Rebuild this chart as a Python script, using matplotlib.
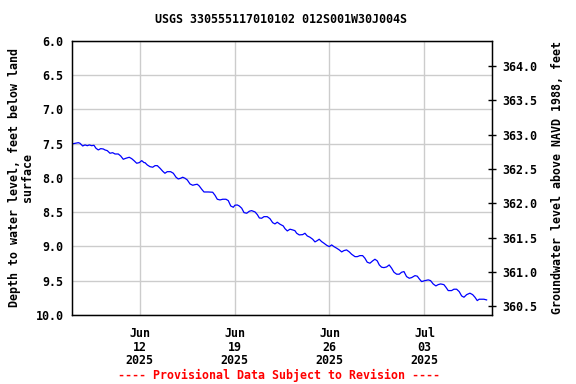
import matplotlib
matplotlib.use("Agg")
import matplotlib.pyplot as plt
import matplotlib.dates as mdates
from datetime import datetime, timedelta

# Data: days since 2025-06-07 00:00, depth (ft below land surface)
day_offsets = [
    0.00, 0.49, 0.61, 0.81, 0.98, 1.15, 1.30, 1.47, 1.64, 1.79, 1.96, 2.14, 2.33, 2.45, 2.62,
    2.82, 3.02, 3.19, 3.43, 3.61, 3.80, 4.00, 4.24, 4.42, 4.59, 4.79, 4.98, 5.16, 5.33,
    5.40, 5.57, 5.77, 5.97, 6.14, 6.31, 6.51, 6.71, 6.87, 7.04, 7.29, 7.49, 7.69, 7.85,
    8.03, 8.18, 8.35, 8.52, 8.72, 8.92, 9.09, 9.25, 9.40, 9.58, 9.75, 10.07, 10.39, 10.56,
    10.73, 10.93, 11.13, 11.37, 11.54, 11.72, 11.91, 12.03, 12.20, 12.35, 12.53, 12.70,
    12.90, 13.09, 13.26, 13.51, 13.68, 13.83, 14.00, 14.17, 14.41, 14.61, 14.81, 14.98,
    15.15, 15.35, 15.59, 15.72,
    15.89, 16.09, 16.28, 16.45, 16.58, 16.77, 17.02, 17.19, 17.36, 17.56, 17.76, 17.93,
    18.10, 18.24, 18.42, 18.59, 18.79, 18.98, 19.16, 19.33, 19.53, 19.72, 19.90, 20.06,
    20.26, 20.46, 20.63, 20.88,
    21.05, 21.24, 21.44, 21.61, 21.78, 21.98, 22.18, 22.35, 22.52, 22.67, 22.84, 23.01,
    23.21, 23.40, 23.58, 23.75, 23.95, 24.14, 24.32, 24.49, 24.68, 24.88, 25.05, 25.30,
    25.47, 25.62, 25.79,
    25.96, 26.03, 26.28, 26.45, 26.64, 26.84, 27.01, 27.19, 27.43, 27.58, 27.75, 28.00,
    28.17, 28.37, 28.56, 28.74, 28.91, 29.11, 29.35, 29.55, 29.72, 29.89, 30.03, 30.21,
    30.38, 30.58,
]
depths = [
    7.506, 7.487, 7.496, 7.535, 7.520, 7.531, 7.520, 7.531, 7.525, 7.569, 7.593, 7.574, 7.579, 7.593, 7.603,
    7.641, 7.633, 7.652, 7.652, 7.681, 7.729, 7.714, 7.700, 7.720, 7.749, 7.787, 7.778, 7.749, 7.778,
    7.778, 7.812, 7.837, 7.845, 7.822, 7.822, 7.860, 7.904, 7.933, 7.910, 7.910, 7.933, 7.991, 8.016,
    8.006, 7.991, 8.006, 8.031, 8.089, 8.108, 8.099, 8.093, 8.118, 8.166, 8.206, 8.206, 8.210, 8.254,
    8.312, 8.322, 8.312, 8.312, 8.332, 8.410, 8.429, 8.399, 8.395, 8.410, 8.443, 8.507,
    8.516, 8.487, 8.478, 8.497, 8.536, 8.585, 8.589, 8.566, 8.566, 8.595, 8.653, 8.672,
    8.647, 8.676, 8.701, 8.741,
    8.774, 8.749, 8.759, 8.770, 8.808, 8.832, 8.828, 8.808, 8.847, 8.866, 8.895, 8.934,
    8.915, 8.895, 8.930, 8.953, 8.983, 9.003, 8.978, 9.003, 9.026, 9.051, 9.080, 9.061,
    9.051, 9.080, 9.114, 9.149,
    9.149, 9.134, 9.134, 9.172, 9.230, 9.245, 9.211, 9.187, 9.211, 9.270, 9.303, 9.309,
    9.299, 9.270, 9.318, 9.376, 9.405, 9.405, 9.376, 9.367, 9.440, 9.464, 9.455, 9.426,
    9.434, 9.474, 9.513,
    9.503, 9.499, 9.488, 9.499, 9.547, 9.576, 9.557, 9.547, 9.557, 9.595, 9.644, 9.644,
    9.624, 9.624, 9.659, 9.722, 9.741, 9.703, 9.682, 9.703, 9.741, 9.790, 9.770, 9.770,
    9.770, 9.780,
]

start_date = datetime(2025, 6, 7)
end_date = datetime(2025, 7, 8)
tick_dates = [datetime(2025, 6, 12), datetime(2025, 6, 19), datetime(2025, 6, 26), datetime(2025, 7, 3)]
left_ticks = [6.0, 6.5, 7.0, 7.5, 8.0, 8.5, 9.0, 9.5, 10.0]
right_ticks = [360.5, 361.0, 361.5, 362.0, 362.5, 363.0, 363.5, 364.0]
land_surface = 370.37

title = "USGS 330555117010102 012S001W30J004S"
left_label = "Depth to water level, feet below land\nsurface"
right_label = "Groundwater level above NAVD 1988, feet"
footer = "---- Provisional Data Subject to Revision ----"

times = [start_date + timedelta(days=d) for d in day_offsets]

mono = "DejaVu Sans Mono"
plt.rcParams['font.family'] = mono
plt.rcParams['font.weight'] = 'bold'

fig = plt.figure(figsize=(5.76, 3.84), dpi=100)
ax = fig.add_axes([0.1245, 0.1797, 0.7302, 0.7143])

ax.plot(times, depths, color="#0000ff", linewidth=0.9)
ax.set_xlim(start_date, end_date)
ax.set_ylim(10.0, 6.0)
ax.set_yticks(left_ticks)
ax.set_yticklabels([f"{v:.1f}" for v in left_ticks], fontsize=8.4, fontweight='bold')
ax.set_xticks(tick_dates)
ax.xaxis.set_major_formatter(mdates.DateFormatter('%b\n%d\n%Y'))
for lbl in ax.get_xticklabels():
    lbl.set_fontsize(8.4)
    lbl.set_fontweight('bold')
    lbl.set_linespacing(1.05)
ax.tick_params(axis='x', length=0, pad=9)
ax.tick_params(axis='y', length=0, pad=6)
ax.grid(True, color="#cccccc", linewidth=1.0)
ax.set_axisbelow(True)
for sp in ax.spines.values():
    sp.set_color("black")
    sp.set_linewidth(1.0)

ax.set_ylabel(left_label, fontsize=8.4, fontweight='bold', linespacing=1.0, labelpad=1)

ax2 = ax.twinx()
ax2.set_ylim(land_surface - 10.0, land_surface - 6.0)
ax2.set_yticks(right_ticks)
ax2.set_yticklabels([f"{v:.1f}" for v in right_ticks], fontsize=8.4, fontweight='bold')
ax2.tick_params(axis='y', direction='inout', length=6, width=1.0, pad=4)
ax2.set_ylabel(right_label, fontsize=8.4, fontweight='bold', labelpad=10)

fig.text(0.487, 0.950, title, ha='center', va='center', fontsize=8.4, fontweight='bold')
fig.text(0.485, 0.023, footer, ha='center', va='center', fontsize=8.4, fontweight='bold', color='red')

fig.savefig("out.png", dpi=100)
